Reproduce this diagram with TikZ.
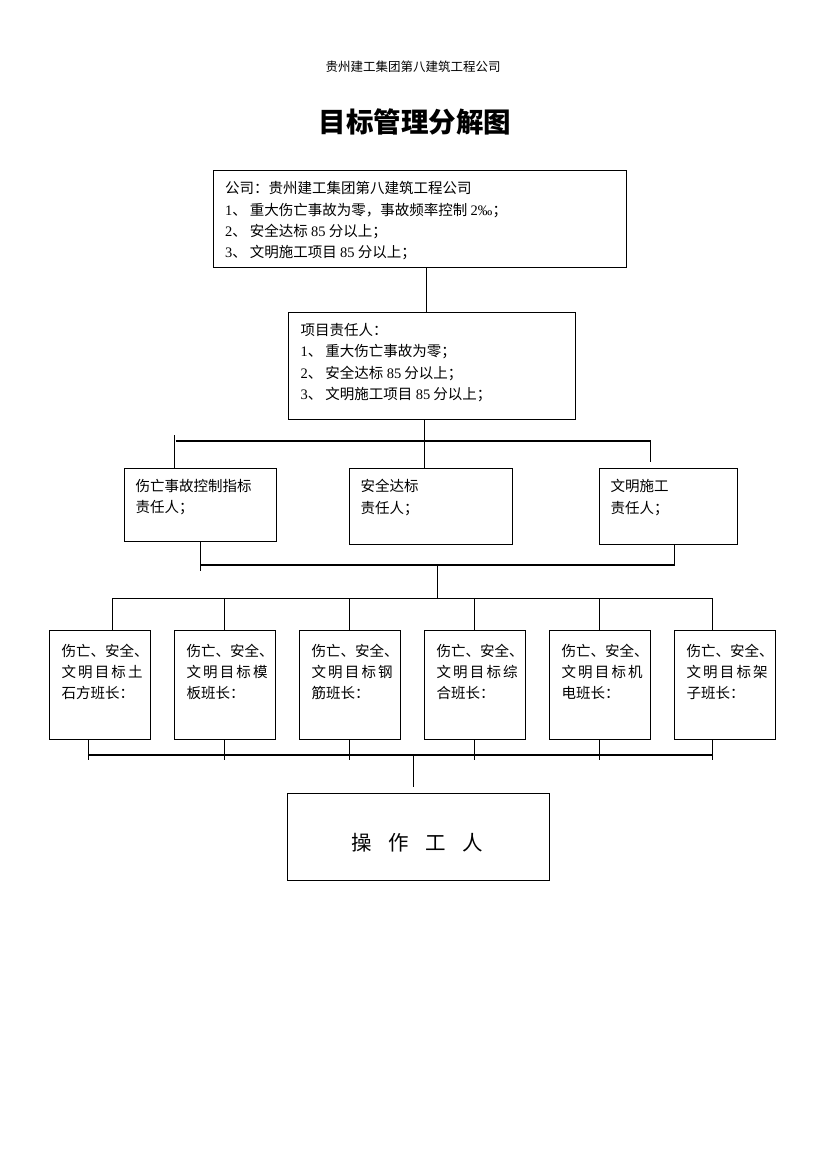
\documentclass[tikz,border=0pt]{standalone}
\usepackage{fontspec}
\setmainfont{Noto Sans CJK SC}
\newfontfamily\latin{Liberation Serif}
\newcommand\lat[1]{{\latin #1}}

\tikzset{
  box/.style={draw, line width=1.1pt, anchor=north west, inner sep=0pt},
  txt/.style={anchor=north west, align=left, inner sep=0pt, font=\fontsize{14.5}{21.3}\selectfont},
  link/.style={line width=1.1pt},
}

\begin{document}
\begin{tikzpicture}[x=1pt, y=-1pt]
\useasboundingbox (0,0) rectangle (827,1169);

% header and title
\node (hdr) at (413,67) {\fontsize{12.5}{14}\selectfont 贵州建工集团第八建筑工程公司};
\node (ttl) at (415,122) {\fontsize{27.5}{30}\selectfont\bfseries 目标管理分解图};

% company
\node[box, minimum width=412.7, minimum height=96.7] (gs) at (213.3,170) {};
\node[txt] (gs-t) at ([shift={(11.5,11.5)}]gs.north west) {公司：贵州建工集团第八建筑工程公司\\
  \lat{1}、 重大伤亡事故为零，事故频率控制 \lat{2‰}；\\
  \lat{2}、 安全达标 \lat{85} 分以上；\\
  \lat{3}、 文明施工项目 \lat{85} 分以上；};

% project
\node[box, minimum width=286.7, minimum height=107.6] (xm) at (288.3,311.7) {};
\node[txt] (xm-t) at ([shift={(12,11.5)}]xm.north west) {项目责任人：\\
  \lat{1}、 重大伤亡事故为零；\\
  \lat{2}、 安全达标 \lat{85} 分以上；\\
  \lat{3}、 文明施工项目 \lat{85} 分以上；};

% three targets
\node[box, minimum width=151.4, minimum height=72.7] (zs) at (124.3,468.3) {};
\node[box, minimum width=163, minimum height=76] (zb) at (349.3,468.3) {};
\node[box, minimum width=138, minimum height=76] (wm) at (599.3,468.3) {};
\foreach \n/\s in {zs/伤亡事故控制指标, zb/安全达标, wm/文明施工}
  \node[txt] (\n-t) at ([shift={(11,11)}]\n.north west) {\s\\责任人；};

% six teams
\foreach \i/\wa/\wb in {1/土/石方, 2/模/板, 3/钢/筋, 4/综/合, 5/机/电, 6/架/子}{
  \node[box, minimum width=100.4, minimum height=108.7] (bz\i) at (49.3+125*\i-125,630.3) {};
  \node[txt] (bz\i-t) at ([shift={(12,13.3)}]bz\i.north west) {伤亡、安全、\\\makebox[79pt][s]{文 明 目 标 \wa}\\\wb 班长：};
}

% workers
\node[box, minimum width=262, minimum height=86.7] (gr) at (287.3,793.3) {};
\node (gr-t) at ([shift={(-1.6,6)}]gr.center) {\fontsize{20.5}{24}\selectfont\spaceskip=16.2pt 操 作 工 人};

% connectors
\coordinate (r1l) at (175.7,441);
\coordinate (r1r) at (650.3,441);
\coordinate (t1) at (174.3,435);
\draw[link] (gs.south -| 426.5,0) -- (xm.north -| 426.5,0);
\draw[link] (xm.south -| 424.5,0) -- (zb.north -| 424.5,0);
\draw[link] (t1) -- (zs.north -| t1);
\draw[link] (r1l) -- (r1r) -- ([yshift=6pt]wm.north -| r1r);

\coordinate (r2l) at (200.3,565);
\coordinate (r2r) at (674.3,565);
\coordinate (r2m) at (437.3,565);
\draw[link] (zs.south -| r2l) -- ([yshift=-6pt]r2l);
\draw[link] (r2l) -- (r2r) -- (wm.south -| r2r);

\coordinate (r3l) at (112.3,598.3);
\coordinate (r3r) at (712.3,598.3);
\draw[link] (r2m) -- (r2m |- r3l);
\draw[link] (r3l) -- (r3r);

\coordinate (r4l) at (88.3,755);
\coordinate (r4r) at (712.3,755);
\coordinate (r4m) at (413.3,755);
\draw[link] (r4l) -- (r4r);
\foreach \i/\xt/\xb in {1/112.3/88.3, 2/224.3/224.3, 3/349.3/349.3, 4/474.3/474.3, 5/599.3/599.3, 6/712.3/712.3}{
  \draw[link] (r3l -| \xt,0) -- (bz\i.north -| \xt,0);
  \draw[link] (bz\i.south -| \xb,0) -- ([yshift=-5pt]r4l -| \xb,0);
}
\draw[link] (r4m) -- ([yshift=6pt]gr.north -| r4m);
\end{tikzpicture}
\end{document}
